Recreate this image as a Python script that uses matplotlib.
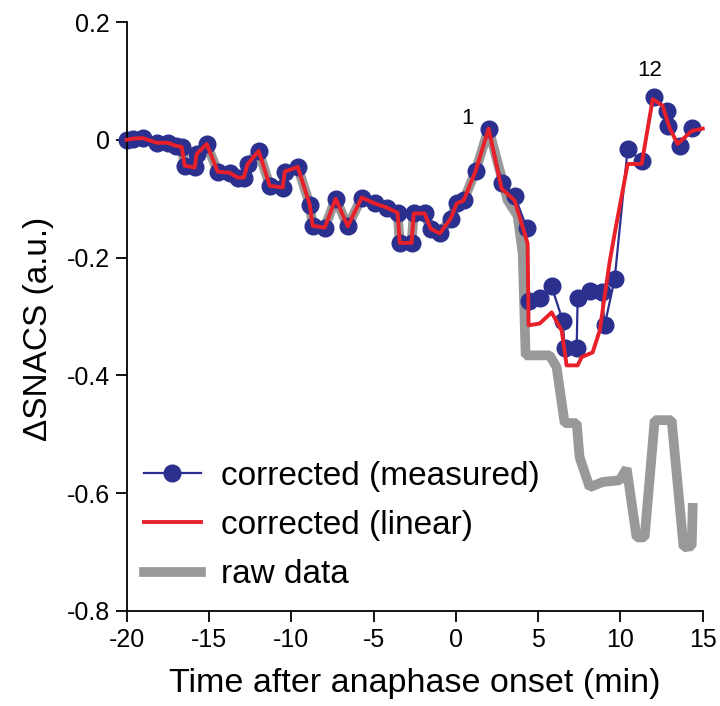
import matplotlib
matplotlib.use("Agg")
from matplotlib import pyplot as plt

plt.rcParams['font.family'] = ['Liberation Sans', 'DejaVu Sans']
plt.rcParams['axes.unicode_minus'] = False

# shared early part (all three traces overlap before anaphase peak)
t_early = [-20.0, -19.64, -19.03, -18.18, -17.51, -17.03, -16.66, -16.48, -15.87,
           -15.75, -15.14, -14.47, -13.74, -13.26, -12.89, -12.65, -11.98, -11.31,
           -10.52, -10.40, -9.61, -8.88, -8.70, -7.97, -7.30, -6.57, -5.72, -4.93,
           -4.20, -3.54, -3.41, -2.69, -2.56, -1.90, -1.53, -0.98, -0.32, 0.05,
           0.47, 1.20, 1.99]
v_early = [0.000, 0.002, 0.003, -0.005, -0.005, -0.010, -0.012, -0.044, -0.047,
           -0.024, -0.007, -0.054, -0.056, -0.064, -0.064, -0.041, -0.019, -0.078,
           -0.081, -0.054, -0.046, -0.110, -0.146, -0.149, -0.100, -0.147, -0.098,
           -0.108, -0.115, -0.124, -0.175, -0.175, -0.125, -0.125, -0.151, -0.159,
           -0.134, -0.108, -0.103, -0.053, 0.019]

# corrected (measured), after the peak
t_meas = [2.78, 3.57, 4.30, 4.42, 5.09, 5.82, 6.49, 6.61, 7.34, 7.40, 8.13, 8.86,
          9.04, 9.65, 10.44, 11.29, 12.02, 12.81, 12.87, 13.60, 14.33]
v_meas = [-0.073, -0.095, -0.149, -0.273, -0.269, -0.249, -0.307, -0.353, -0.353,
          -0.269, -0.256, -0.259, -0.315, -0.236, -0.015, -0.036, 0.073, 0.049,
          0.024, -0.010, 0.020]

# corrected (linear), after the peak
t_lin = [2.78, 3.57, 4.36, 4.42, 5.09, 5.82, 6.43, 6.73, 7.40, 7.64, 8.31, 8.74,
         9.34, 9.65, 10.44, 11.29, 11.96, 12.56, 12.99, 13.47, 14.33, 15.0]
v_lin = [-0.083, -0.103, -0.176, -0.315, -0.312, -0.293, -0.324, -0.383, -0.383,
         -0.369, -0.361, -0.324, -0.208, -0.159, -0.041, -0.041, 0.069, 0.058,
         0.020, -0.007, 0.015, 0.019]

# raw data, after the peak
t_raw = [3.15, 3.75, 4.06, 4.24, 5.70, 6.12, 6.61, 7.34, 7.52, 8.13, 8.92, 9.95,
         10.38, 10.98, 11.47, 12.08, 13.11, 13.84, 14.33, 14.39]
v_raw = [-0.103, -0.129, -0.193, -0.366, -0.366, -0.386, -0.481, -0.481, -0.539,
         -0.590, -0.581, -0.578, -0.558, -0.675, -0.675, -0.476, -0.476, -0.692,
         -0.690, -0.625]

yticks = [-0.8, -0.6, -0.4, -0.2, 0, 0.2]
ytick_labels = ["-0.8", "-0.6", "-0.4", "-0.2", "0", "0.2"]
xticks = [-20, -15, -10, -5, 0, 5, 10, 15]

blue = "#2b2f8e"
red = "#e8202a"
grey = "#999999"

fig = plt.figure(figsize=(7.2, 7.06), dpi=100)
ax = fig.add_axes([0.176, 0.1346, 0.8, 0.8342])

ax.plot(t_early + t_raw, v_early + v_raw, color=grey, lw=7, solid_joinstyle="bevel",
        label="raw data", zorder=1)
ax.plot(t_early + t_meas, v_early + v_meas, color=blue, lw=1.6, marker="o", ms=12,
        label="corrected (measured)", zorder=2, clip_on=False)
ax.plot(t_early + t_lin, v_early + v_lin, color=red, lw=2.8, label="corrected (linear)",
        zorder=3, clip_on=False)

ax.text(0.72, 0.037, "1", fontsize=16, ha="center", va="center")
ax.text(11.77, 0.117, "12", fontsize=16, ha="center", va="center")

ax.set_xlim(-20, 15)
ax.set_ylim(-0.8, 0.2)
ax.set_xticks(xticks)
ax.set_xticklabels([str(x) for x in xticks])
ax.set_yticks(yticks)
ax.set_yticklabels(ytick_labels)
ax.tick_params(labelsize=18, length=8, width=1.3, direction="out", pad=4)
for s in ["top", "right"]:
    ax.spines[s].set_visible(False)
for s in ["left", "bottom"]:
    ax.spines[s].set_linewidth(1.3)

ax.set_xlabel("Time after anaphase onset (min)", fontsize=24.5, labelpad=12)
ax.set_ylabel("\u0394SNACS (a.u.)", fontsize=24)
ax.yaxis.set_label_coords(-0.127, 0.479)

h, l = ax.get_legend_handles_labels()
order = [1, 2, 0]
ax.legend([h[i] for i in order], [l[i] for i in order], loc="center left",
          bbox_to_anchor=(0.03, 0.145), frameon=False, fontsize=24, borderpad=0,
          borderaxespad=0, labelspacing=0.55, handlelength=1.7, handletextpad=0.6,
          numpoints=1)

plt.savefig("out.png", dpi=100)
